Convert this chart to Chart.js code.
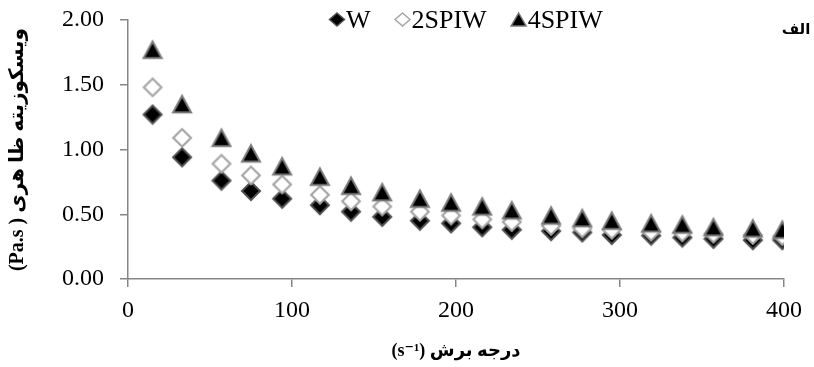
<!DOCTYPE html>
<html>
<head>
<meta charset="utf-8">
<script src="https://cdn.jsdelivr.net/npm/chart.js@4.4.1/dist/chart.umd.min.js"></script>
<style>
html, body { margin: 0; padding: 0; background: #fff; }
#wrap { width: 814px; height: 367px; }
</style>
</head>
<body>
<div id="wrap"><canvas id="chart" width="814" height="367"></canvas></div>
<script>
// data
const shearRate = [15, 33, 57, 75, 94, 117, 136, 155, 178, 197, 216, 234, 258, 277, 295, 319, 338, 357, 381, 399];
const viscW = [1.27, 0.94, 0.76, 0.68, 0.62, 0.57, 0.52, 0.48, 0.45, 0.43, 0.40, 0.38, 0.37, 0.36, 0.34, 0.335, 0.32, 0.31, 0.30, 0.30];
const visc2SPIW = [1.48, 1.09, 0.89, 0.80, 0.73, 0.65, 0.60, 0.56, 0.52, 0.49, 0.46, 0.44, 0.41, 0.39, 0.38, 0.365, 0.36, 0.35, 0.34, 0.33];
const visc4SPIW = [1.77, 1.35, 1.09, 0.97, 0.87, 0.79, 0.72, 0.67, 0.62, 0.59, 0.56, 0.53, 0.49, 0.47, 0.45, 0.43, 0.42, 0.40, 0.39, 0.38];
const seriesNames = ["W", "2SPIW", "4SPIW"];
// the canvas lays text out LTR, so the unit goes first to land on the left like the RTL original
const xTitle = "(s⁻¹) درجه برش";
const yTitle = "(Pa.s ) ویسکوزیته ظا هری";
const panelLabel = "الف";

const axisGray = "#868686";
const serif = "'Liberation Serif', 'DejaVu Sans', serif";

function makeMarker(shape, fill, stroke, lineWidth) {
	const size = 22;
	const c = document.createElement("canvas");
	c.width = size;
	c.height = size;
	const g = c.getContext("2d");
	const m = size / 2;
	const r = m - lineWidth;
	g.beginPath();
	if (shape === "diamond") {
		g.moveTo(m, m - r);
		g.lineTo(m + r, m);
		g.lineTo(m, m + r);
		g.lineTo(m - r, m);
	} else {
		const h = r * 1.85;
		g.moveTo(m, m - h / 2);
		g.lineTo(m + r, m + h / 2);
		g.lineTo(m - r, m + h / 2);
	}
	g.closePath();
	g.fillStyle = fill;
	g.fill();
	g.lineWidth = lineWidth;
	g.strokeStyle = stroke;
	g.stroke();
	return c;
}

const markers = [
	makeMarker("diamond", "#000", "#505050", 2),
	makeMarker("diamond", "#fff", "#a6a6a6", 2.2),
	makeMarker("triangle", "#000", "#7a7a7a", 2)
];

function toPoints(ys) {
	return shearRate.map((x, i) => ({ x, y: ys[i] }));
}

// legend + panel label drawn on top of the plot like the Excel original
const overlayPlugin = {
	id: "overlay",
	afterDraw(chart) {
		const ctx = chart.ctx;
		ctx.save();
		ctx.font = "26px " + serif;
		ctx.textBaseline = "alphabetic";
		ctx.fillStyle = "#000";
		let x = 329;
		const cy = 19.5;
		const styles = [
			{ shape: "diamond", fill: "#000", stroke: "#505050" },
			{ shape: "diamond", fill: "#fff", stroke: "#a6a6a6" },
			{ shape: "triangle", fill: "#000", stroke: "#7a7a7a" }
		];
		seriesNames.forEach((name, i) => {
			const s = styles[i];
			const mx = x + 8;
			ctx.beginPath();
			if (s.shape === "diamond") {
				ctx.moveTo(mx, cy - 6.5);
				ctx.lineTo(mx + 7.5, cy);
				ctx.lineTo(mx, cy + 6.5);
				ctx.lineTo(mx - 7.5, cy);
			} else {
				ctx.moveTo(mx, cy - 6.5);
				ctx.lineTo(mx + 7.5, cy + 6.5);
				ctx.lineTo(mx - 7.5, cy + 6.5);
			}
			ctx.closePath();
			ctx.fillStyle = s.fill;
			ctx.fill();
			ctx.lineWidth = 1.5;
			ctx.strokeStyle = s.stroke;
			ctx.stroke();
			ctx.fillStyle = "#000";
			ctx.textAlign = "left";
			ctx.fillText(name, x + 17, 28);
			x += 17 + ctx.measureText(name).width + 24;
		});
		ctx.font = "bold 15px 'DejaVu Sans'";
		ctx.textAlign = "center";
		ctx.textBaseline = "middle";
		ctx.fillText(panelLabel, 796, 30);
		ctx.restore();
	}
};

new Chart(document.getElementById("chart"), {
	type: "scatter",
	data: {
		datasets: [
			{ label: seriesNames[0], data: toPoints(viscW), pointStyle: markers[0], pointRadius: 10, order: 3 },
			{ label: seriesNames[1], data: toPoints(visc2SPIW), pointStyle: markers[1], pointRadius: 10, order: 2 },
			{ label: seriesNames[2], data: toPoints(visc4SPIW), pointStyle: markers[2], pointRadius: 10, order: 1 }
		]
	},
	options: {
		responsive: false,
		animation: false,
		events: [],
		layout: { padding: { top: 20, right: 30, left: 0, bottom: 0 } },
		plugins: {
			legend: { display: false },
			tooltip: { enabled: false }
		},
		scales: {
			x: {
				type: "linear",
				min: 0,
				max: 400,
				ticks: { stepSize: 100, color: "#000", font: { family: serif, size: 24 }, padding: 9, maxRotation: 0 },
				grid: { drawOnChartArea: false, drawTicks: true, tickLength: 8, color: axisGray, lineWidth: 1.5 },
				border: { color: axisGray, width: 1.5 },
				title: { display: true, text: xTitle, color: "#000", font: { family: serif, size: 18, weight: "bold" }, padding: { top: 0, bottom: 5 } },
				afterFit(scale) { scale.height = 88; }
			},
			y: {
				min: 0,
				max: 2,
				ticks: { stepSize: 0.5, color: "#000", font: { family: serif, size: 24 }, padding: 16, callback: (v) => v.toFixed(2) },
				grid: { drawOnChartArea: false, drawTicks: true, tickLength: 8, color: axisGray, lineWidth: 1.5 },
				border: { color: axisGray, width: 1.5 },
				title: { display: true, text: yTitle, color: "#000", font: { family: serif, size: 20, weight: "bold" }, padding: { top: 6, bottom: 0 } },
				afterFit(scale) {
					scale.width = 128;
					scale.paddingTop = 0;
					scale.paddingBottom = 0;
				}
			}
		}
	},
	plugins: [overlayPlugin]
});
</script>
</body>
</html>
